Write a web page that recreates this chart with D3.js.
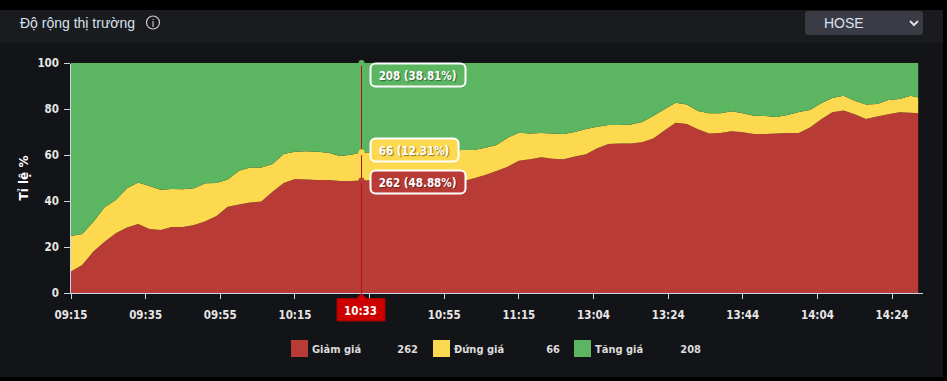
<!DOCTYPE html>
<html>
<head>
<meta charset="utf-8">
<script src="https://cdn.jsdelivr.net/npm/d3@7"></script>
<style>
  html, body { margin: 0; padding: 0; background: #000; overflow: hidden; }
  #chart { width: 947px; height: 381px; }
  text { font-family: "DejaVu Sans", sans-serif; }
  .axis text { fill: #e6e6e6; font-size: 11.5px; font-weight: bold; font-family: "DejaVu Sans Condensed", "DejaVu Sans", sans-serif; font-stretch: condensed; }
  .axis path, .axis line { stroke: #ccd6eb; stroke-width: 1; shape-rendering: crispEdges; }
  .legendText { fill: #dcdcdc; font-size: 11px; font-weight: bold; font-family: "DejaVu Sans Condensed", "DejaVu Sans", sans-serif; font-stretch: condensed; }
  .tipText { fill: #fff; font-size: 11.5px; font-weight: bold; font-family: "DejaVu Sans Condensed", "DejaVu Sans", sans-serif; font-stretch: condensed; }
</style>
</head>
<body>
<div id="chart"></div>
<script>
  var width = 947;
  var height = 381;
  var margin = { top: 63, right: 28.8, bottom: 88, left: 71 };

  // sampled every 3 minutes, market closes 11:30 - 13:00
  var times = ["09:15","09:18","09:21","09:24","09:27","09:30","09:33","09:36","09:39","09:42","09:45","09:48","09:51","09:54","09:57","10:00","10:03","10:06","10:09","10:12","10:15","10:18","10:21","10:24","10:27","10:30","10:33","10:36","10:39","10:42","10:45","10:48","10:51","10:54","10:57","11:00","11:03","11:06","11:09","11:12","11:15","11:18","11:21","11:24","11:27","11:30","13:02","13:05","13:08","13:11","13:14","13:17","13:20","13:23","13:26","13:29","13:32","13:35","13:38","13:41","13:44","13:47","13:50","13:53","13:56","13:59","14:02","14:05","14:08","14:11","14:14","14:17","14:20","14:23","14:26","14:29","14:31"];
  var giam = [9.3,12.2,18,22.3,26,28.5,30,27.8,27.4,28.7,28.7,29.6,31.2,33.5,37.5,38.5,39.3,39.8,44,47.8,49.6,49.4,49.1,49.1,48.7,48.7,48.88,49,48.6,48.2,47.9,47.7,47.6,47.8,48.2,48.6,49.9,51.3,53,54.9,57.5,58.1,59,58.4,58.1,59.3,60.3,62.9,64.8,65,65,65.5,67.2,70.6,74,73.5,71.2,69.4,69.6,70.3,69.9,69.1,69.1,69.3,69.6,69.6,72,75.5,78.6,79.3,77.7,75.7,76.7,77.7,78.6,78.4,78.1];
  var dung = [15.5,13.5,13,15,14.4,17,18,18.7,17.5,16.5,16.4,15.9,16.5,14.3,11.9,14.7,15.3,14.8,12.1,12.6,11.8,12.2,12.3,11.9,10.9,11.4,12.31,12,12.2,12.7,13.1,13.5,13.9,13.9,13.8,13.6,12.3,11.9,11.3,12.6,12.2,11.3,10.6,11,11,10.7,11,9.4,8.2,8,8.3,8.8,9.8,9.3,8.7,8.5,7.9,8.7,8.5,8.7,8.2,8,7.9,7.2,7.8,9.1,7.6,7,6.2,6.5,5.9,6.3,5.5,6.2,5.7,7.4,6.9];
  var tang = [75.2,74.3,69,62.7,59.6,54.5,52,53.5,55.1,54.8,54.9,54.5,52.3,52.2,50.6,46.8,45.4,45.4,43.9,39.6,38.6,38.4,38.6,39,40.4,39.9,38.81,39,39.2,39.1,39,38.8,38.5,38.3,38,37.8,37.8,36.8,35.7,32.5,30.3,30.6,30.4,30.6,30.9,30,28.7,27.7,27,27,26.7,25.7,23,20.1,17.3,18,20.9,21.9,21.9,21,21.9,22.9,23,23.5,22.6,21.3,20.4,17.5,15.2,14.2,16.4,18,17.8,16.1,15.7,14.2,15];

  var tickLabels = ["09:15","09:35","09:55","10:15","10:35","10:55","11:15","13:04","13:24","13:44","14:04","14:24"];
  var yTicks = [0,20,40,60,80,100];

  var seriesNames = ["Giảm giá","Đứng giá","Tăng giá"];
  var seriesColors = ["#b93b36","#fdd94f","#5bb561"];
  var seriesCounts = [262,66,208];
  var seriesPct = ["48.88","12.31","38.81"];
  var hoverTime = "10:33";
  var hiddenTick = "10:35"; // sits behind the time flag

  // every trading minute on the axis, 09:15-11:30 then 13:00-14:31
  var minutes = [];
  function addMinutes(from, to) {
    for (var m = from; m <= to; m++) {
      minutes.push(d3.format("02")(Math.floor(m / 60)) + ":" + d3.format("02")(m % 60));
    }
  }
  addMinutes(555, 690);
  addMinutes(780, 871);

  var rows = times.map(function(t, i) {
    return { time: t, g: giam[i], d: dung[i], t: tang[i] };
  });

  var svg = d3.select("#chart")
    .append("svg")
    .attr("width", width)
    .attr("height", height);

  // panel background
  svg.append("rect").attr("x", 0).attr("y", 10).attr("width", 943).attr("height", 367).attr("fill", "#131417");
  svg.append("rect").attr("x", 0).attr("y", 10).attr("width", 943).attr("height", 33).attr("fill", "#1a1b1e");

  svg.append("text")
    .attr("x", 20)
    .attr("y", 28)
    .style("font-family", "'Liberation Sans', sans-serif")
    .style("font-size", "14px")
    .attr("fill", "#d8e2ee")
    .text("Độ rộng thị trường");

  // info icon
  svg.append("circle").attr("cx", 153).attr("cy", 22.5).attr("r", 6.5).attr("fill", "none").attr("stroke", "#cfcfcf").attr("stroke-width", 1.2);
  svg.append("text")
    .attr("x", 153)
    .attr("y", 26.5)
    .attr("text-anchor", "middle")
    .style("font-family", "'Liberation Sans', sans-serif")
    .style("font-size", "11px")
    .attr("fill", "#cfcfcf")
    .text("i");

  // exchange dropdown
  svg.append("rect").attr("x", 805).attr("y", 11).attr("width", 118).attr("height", 24).attr("rx", 3).attr("fill", "#3a3b44");
  svg.append("text")
    .attr("x", 824)
    .attr("y", 28)
    .style("font-family", "'Liberation Sans', sans-serif")
    .style("font-size", "14px")
    .attr("fill", "#d8e2ee")
    .text("HOSE");
  svg.append("path")
    .attr("d", "M910,21 l4,4 l4,-4")
    .attr("fill", "none")
    .attr("stroke", "#dddddd")
    .attr("stroke-width", 2);

  var xScale = d3.scalePoint()
    .domain(minutes)
    .range([margin.left, width - margin.right]);

  var yScale = d3.scaleLinear()
    .domain([0, 100])
    .range([height - margin.bottom, margin.top]);

  var stack = d3.stack().keys(["g", "d", "t"]);
  var area = d3.area()
    .x(function(d) { return xScale(d.data.time); })
    .y0(function(d) { return yScale(d[0]); })
    .y1(function(d) { return yScale(Math.min(d[1], 100)); });

  svg.selectAll(".layer")
    .data(stack(rows))
    .enter()
    .append("path")
      .attr("class", "layer")
      .attr("d", area)
      .attr("fill", function(d, i) { return seriesColors[i]; });

  var xAxis = svg.append("g")
    .attr("class", "axis")
    .attr("transform", `translate(0,${height - margin.bottom + 0.5})`)
    .call(d3.axisBottom(xScale)
      .tickValues(tickLabels)
      .tickFormat(function(d) { return d === hiddenTick ? "" : d; })
      .offset(0)
      .tickSize(5)
      .tickPadding(12)
      .tickSizeOuter(0));

  // axis line runs a little past the last point
  xAxis.select(".domain").attr("d", `M${margin.left - 1},0H${width - 24.5}`);

  var yAxis = svg.append("g")
    .attr("class", "axis")
    .attr("transform", `translate(${margin.left - 1},0)`)
    .call(d3.axisLeft(yScale).tickValues(yTicks).tickSize(6).tickPadding(5).tickSizeOuter(0));

  svg.append("text")
    .attr("transform", "rotate(-90)")
    .attr("x", -178)
    .attr("y", 28)
    .attr("text-anchor", "middle")
    .attr("fill", "#ffffff")
    .style("font-size", "12px")
    .style("font-weight", "bold")
    .text("Tỉ lệ %");

  // crosshair at the hovered minute
  var hoverRow = rows[times.indexOf(hoverTime)];
  var hoverX = Math.floor(xScale(hoverTime)) - 0.5;
  var tops = [hoverRow.g, hoverRow.g + hoverRow.d, hoverRow.g + hoverRow.d + hoverRow.t];

  svg.append("line")
    .attr("x1", hoverX).attr("x2", hoverX)
    .attr("y1", yScale(100)).attr("y2", yScale(0))
    .attr("stroke", "#b81010")
    .attr("stroke-width", 1);

  svg.selectAll(".marker")
    .data(tops)
    .enter()
    .append("circle")
      .attr("class", "marker")
      .attr("cx", hoverX)
      .attr("cy", function(d) { return yScale(d); })
      .attr("r", 3)
      .attr("fill", function(d, i) { return seriesColors[i]; });

  // value labels next to the crosshair
  var tipY = [182, 150, 75];
  var tipW = [95, 88, 95];
  var tips = svg.selectAll(".tip")
    .data(seriesCounts)
    .enter()
    .append("g")
      .attr("class", "tip")
      .attr("transform", function(d, i) { return `translate(370.5,${tipY[i] - 11.5})`; });
  tips.append("rect")
    .attr("width", function(d, i) { return tipW[i]; })
    .attr("height", 23)
    .attr("rx", 5)
    .attr("fill", function(d, i) { return seriesColors[i]; })
    .attr("stroke", "#ffffff")
    .attr("stroke-width", 2);
  tips.append("text")
    .attr("class", "tipText")
    .attr("x", function(d, i) { return tipW[i] / 2 - 0.5; })
    .attr("y", 16)
    .attr("text-anchor", "middle")
    .style("text-shadow", "1px 1px 1px rgba(0,0,0,0.45)")
    .text(function(d, i) { return d + " (" + seriesPct[i] + "%)"; });

  // time flag under the axis
  svg.append("path")
    .attr("d", `M337,298.5 H${hoverX - 5} L${hoverX},293.5 L${hoverX + 5},298.5 H385 V321 H337 Z`)
    .attr("fill", "#cc0000")
    .attr("stroke", "#a30000");
  svg.append("text")
    .attr("x", 360.5)
    .attr("y", 315)
    .attr("text-anchor", "middle")
    .attr("fill", "#ffffff")
    .style("font-size", "11.5px")
    .style("font-weight", "bold")
    .style("font-family", "'DejaVu Sans Condensed', 'DejaVu Sans', sans-serif")
    .style("font-stretch", "condensed")
    .text(hoverTime);

  // legend
  var swatchX = [291, 433, 574];
  var countX = [418, 560, 701];
  var legend = svg.selectAll(".legendItem")
    .data(seriesNames)
    .enter()
    .append("g")
      .attr("class", "legendItem");
  legend.append("rect")
    .attr("x", function(d, i) { return swatchX[i]; })
    .attr("y", 340)
    .attr("width", 17)
    .attr("height", 17)
    .attr("fill", function(d, i) { return seriesColors[i]; });
  legend.append("text")
    .attr("class", "legendText")
    .attr("x", function(d, i) { return swatchX[i] + 21; })
    .attr("y", 353)
    .text(function(d) { return d; });
  legend.append("text")
    .attr("class", "legendText")
    .attr("x", function(d, i) { return countX[i]; })
    .attr("y", 353)
    .attr("text-anchor", "end")
    .text(function(d, i) { return seriesCounts[i]; });
</script>
</body>
</html>
